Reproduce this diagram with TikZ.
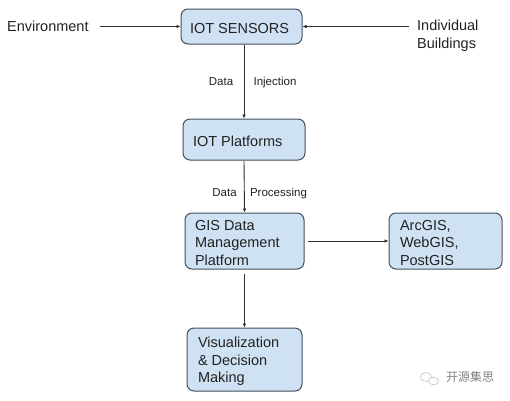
\documentclass[tikz,border=0pt]{standalone}
\usepackage{fontspec}
\setmainfont{Liberation Sans}
\newfontfamily\cjkfont{Noto Sans CJK SC}
\usetikzlibrary{arrows.meta}
\definecolor{boxblue}{HTML}{CFE2F3}
\definecolor{boxline}{HTML}{46505A}
\definecolor{arrowline}{HTML}{2E2E2E}
\definecolor{textgray}{HTML}{222222}
\tikzset{
  bluebox/.style={draw=boxline,fill=boxblue,line width=1pt,rounded corners=7pt,align=flush left,
    inner ysep=0pt,execute at begin node={\rule{0pt}{14pt}},font=\fontsize{14.5}{17.5}\selectfont,text=textgray},
  outside/.style={inner sep=0pt,align=flush left,font=\fontsize{14.5}{18}\selectfont,text=textgray},
  flowlabel/.style={inner sep=0pt,text height=8.5pt,text depth=0pt,font=\fontsize{11.5}{13}\selectfont,text=textgray},
  flow/.style={->,arrowline,line width=0.9pt}
}

\begin{document}
\begin{tikzpicture}[>={Latex[length=4pt,width=3.6pt]},x=1pt,y=-1pt]
  \useasboundingbox (0,0) rectangle (510,400);
  % Boxes
  \node[bluebox,minimum height=35pt,text width=103pt,inner xsep=9pt] (sensors) at (241.5,26.5){IOT SENSORS};
  \node[bluebox,minimum height=41pt,text width=102pt,inner xsep=10pt] (platforms) at (244,139.5){IOT Platforms};
  \node[bluebox,minimum height=56pt,text width=99pt,inner xsep=10pt] (gis) at (244.5,241){GIS Data\\Management\\Platform};
  \node[bluebox,minimum height=56pt,text width=91pt,inner xsep=11pt] (arcgis) at (445.5,241){ArcGIS,\\WebGIS,\\PostGIS};
  \node[bluebox,minimum height=63pt,text width=93pt,inner xsep=11pt] (vis) at (244.5,359.5){Visualization\\\& Decision\\Making};
  % Sources
  \node[outside,anchor=west] (env) at (7,26.5){Environment};
  \node[outside,anchor=west] (buildings) at (417,35.5){Individual\\Buildings};
  % Arrow labels
  \node[flowlabel] (data1) at (221,81){Data};
  \node[flowlabel] (injection) at (275,81){Injection};
  \node[flowlabel] (data2) at (224.5,192){Data};
  \node[flowlabel] (processing) at (278.5,192){Processing};
  % Arrows
  \draw[flow,shorten <=11pt] (env.east)--(sensors.west);
  \draw[flow,shorten <=8pt] (sensors.east -| buildings.west)--(sensors.east);
  \draw[flow] (platforms.north |- sensors.south)--(platforms.north);
  \draw[flow] (platforms.south)--(gis.north);
  \draw[flow,shorten <=3pt] (gis.east)--(arcgis.west);
  \draw[flow,shorten <=4pt] (gis.south)--(vis.north);
  % Watermark
  \draw[gray!50,line width=0.6pt] (426,377) ellipse (5.5pt and 4.5pt);
  \draw[gray!50,line width=0.6pt,fill=white] (433.5,381) ellipse (5pt and 3.8pt);
  \node[inner sep=0pt,font=\cjkfont\fontsize{12}{12}\selectfont,text=gray] (mark) at (470,377){开源集思};
\end{tikzpicture}
\end{document}
